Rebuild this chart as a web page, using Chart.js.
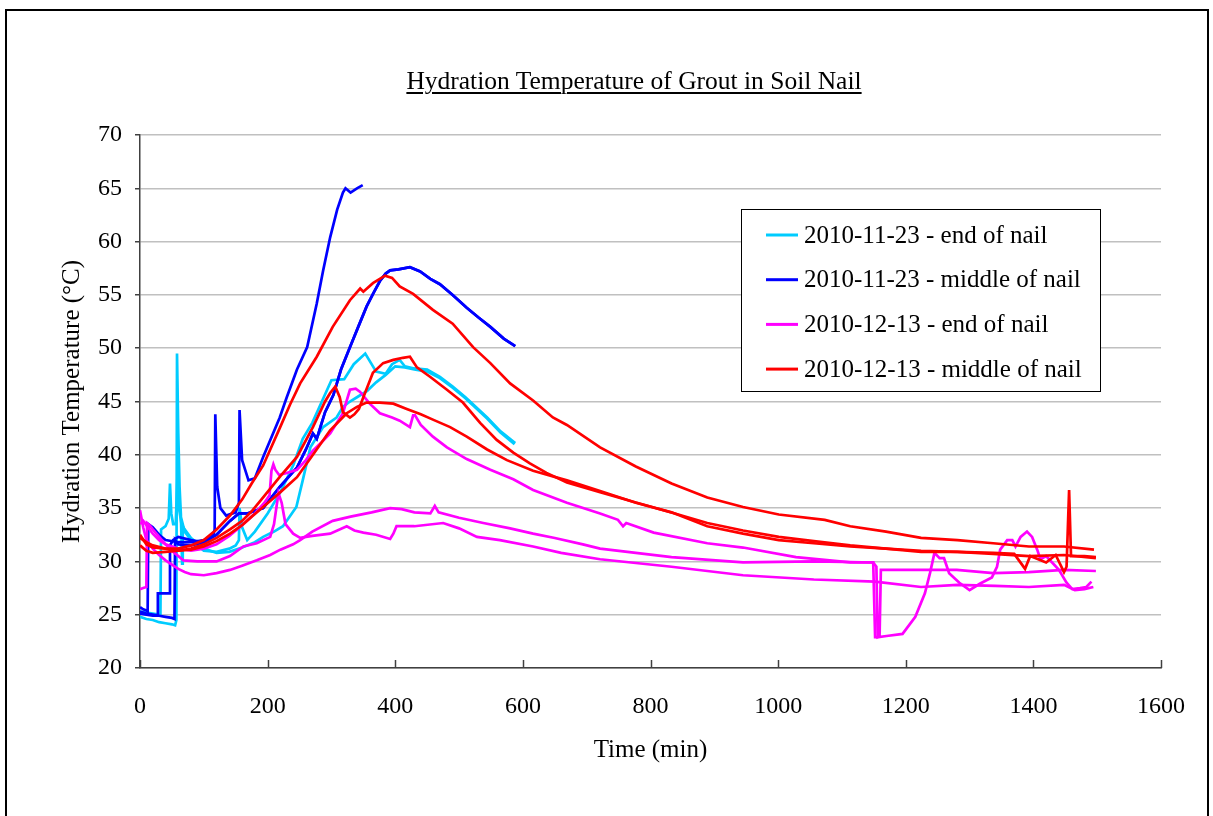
<!DOCTYPE html>
<html>
<head>
<meta charset="utf-8">
<script src="https://cdn.jsdelivr.net/npm/chart.js@4/dist/chart.umd.min.js"></script>
<style>
  html, body { margin:0; padding:0; background:#fff; width:1213px; height:816px; overflow:hidden; }
  #wrap { position:relative; width:1213px; height:816px; }
  #frame { position:absolute; left:5px; top:9px; width:1200px; height:900px; border:2px solid #000; box-sizing:content-box; pointer-events:none; }
  #title { position:absolute; left:0; top:66px; width:1268px; text-align:center; font-family:'Liberation Serif', serif; font-size:25.5px; line-height:30px; color:#000; }
  #title span { text-decoration:underline; text-underline-offset:3px; text-decoration-thickness:1.5px; }
  canvas { position:absolute; left:0; top:0; }
</style>
</head>
<body>
<div id="wrap">
  <canvas id="c" width="1213" height="816"></canvas>
  <div id="frame"></div>
  <div id="title"><span>Hydration Temperature of Grout in Soil Nail</span></div>
</div>
<script>
// ---------------- DATA ----------------
const seriesNames = ['2010-11-23 - end of nail', '2010-11-23 - middle of nail', '2010-12-13 - end of nail', '2010-12-13 - middle of nail'];
const xTickValues = [0, 200, 400, 600, 800, 1000, 1200, 1400, 1600];
const yTickValues = [20, 25, 30, 35, 40, 45, 50, 55, 60, 65, 70];

// 2010-11-23 end of nail (sensor A)
const end1123A_time = [0,10,20,30,40,50,55,57,58,60,62,64,66,67,70,80,90,100,120,140,150,155,156,160,168,180,200,220,240,255,270,285,300,320,335,353,362,370,385,395,407,415,430,450,470,490,510,544,565,588];
const end1123A_temp = [24.8,24.6,24.5,24.3,24.2,24.1,24.0,24.5,49.5,42,37,34.5,29.8,33.5,32.8,32,31.5,31,30.9,31.2,31.5,32,35,33.2,32,32.8,34.5,36.5,39,41.5,43,45,47,47.1,48.5,49.5,48.6,47.8,47.6,48.5,48.9,48.3,48.1,48,47.3,46.4,45.4,43.5,42.2,41.1];
// 2010-11-23 end of nail (sensor B)
const end1123B_time = [0,10,20,30,32,33,40,45,47,49,52,56,59,61,65,70,80,90,100,120,140,160,180,193,210,224,245,255,267,287,308,318,329,340,356,370,385,400,415,430,450,470,490,510,544,565,587];
const end1123B_temp = [25.3,25.2,25.1,25,25,33,33.3,34,37.3,34.5,33.5,33.5,38.6,35,33.5,33,32.2,31.7,31.2,30.8,30.9,31.3,31.8,32.3,32.8,33.3,35.1,37.6,40.7,42.6,43.5,44.5,45,45.4,46,46.8,47.5,48.3,48.2,48,47.8,47.2,46.3,45.3,43.4,42.1,41];

// 2010-11-23 middle of nail (sensors A, B, C)
const mid1123A_time = [0,5,10,12,13,20,30,40,60,80,100,115,117,118,121,126,135,150,155,156,160,170,180,193,219,230,246,262,277,287,298,309,318,322,330,340,349];
const mid1123A_temp = [25.7,25.5,25.4,25.3,33.5,33.2,32.5,32,31.8,31.8,32,32.5,33,43.8,37,35,34.3,34.6,35.5,44.2,39.5,37.6,37.8,39.8,43.5,45.4,48,50.1,54.2,57.3,60.4,63,64.6,65,64.6,65,65.3];
const mid1123B_time = [0,10,20,30,40,50,54,55,60,80,100,120,141,155,168,193,219,246,260,271,277,290,303,315,329,342,355,366,376,385,392,405,423,439,455,470,490,512,530,549,570,588];
const mid1123B_temp = [25.3,25.1,25,24.9,24.8,24.7,24.6,32,31.6,31.5,31.8,32.5,33.8,34.5,34.5,35,37,38.8,40.5,42,41.5,44,45.6,48,50.1,52,53.9,55.2,56.3,57,57.3,57.4,57.6,57.2,56.5,56,55,53.8,52.9,52,50.9,50.2];
const mid1123C_time = [0,10,20,27,28,40,46,47,52,60,80,100,120,141,155,168,193,219,246,260,271,277,290,303,315,329,342,355,366,376,385,392,405,423,439,455,470,490,512,530,549,570,588];
const mid1123C_temp = [25.1,25,24.9,24.9,27,27,27,31.5,32,32.3,32,31.8,32.5,33.8,34.5,34.5,35,37,38.8,40.5,42,41.5,44,45.6,48,50.1,52,53.9,55.2,56.3,57,57.3,57.4,57.6,57.2,56.5,56,55,53.8,52.9,52,50.9,50.2];

// 2010-12-13 end of nail (sensors A, B, C)
const end1213A_time = [0,5,10,20,30,40,60,80,100,120,140,160,180,195,203,206,209,212,218,230,246,260,271,285,298,318,329,338,345,360,376,395,407,423,428,431,440,459,481,512,549,585,616,669,721,749,757,762,805,889,945,1028,1113,1149,1152,1157,1170,1195,1215,1230,1238,1245,1253,1260,1268,1284,1300,1316,1335,1343,1348,1359,1367,1372,1380,1390,1398,1406,1411,1420,1440,1452,1461,1473,1483,1491];
const end1213A_temp = [33.5,33.8,33.4,32.6,32,31.6,31.2,31,31.2,31.6,32.4,33.4,34.5,35.5,36.2,38.5,39.1,38.6,38.1,38.3,38.6,39.5,40.4,41.2,42,43.9,46.1,46.2,45.9,44.8,43.9,43.5,43.2,42.6,43.7,43.7,42.8,41.7,40.7,39.6,38.6,37.7,36.7,35.5,34.5,33.9,33.3,33.6,32.7,31.7,31.3,30.4,29.9,29.9,22.9,22.9,23,23.2,24.8,27,28.9,30.8,30.3,30.3,28.9,28,27.3,27.9,28.5,29.5,31.1,32,32,31.4,32.3,32.8,32.3,31.1,30.2,30.5,29.2,28,27.4,27.5,27.6,28.1];
const end1213B_time = [0,5,10,20,30,40,50,60,70,80,100,120,141,160,183,204,220,240,251,270,302,330,363,392,410,430,455,462,468,500,538,580,616,650,694,721,833,945,1056,1149,1154,1156,1159,1161,1224,1280,1337,1393,1448,1498];
const end1213B_temp = [34.8,33.2,32,31.2,30.6,30.1,29.7,29.3,29,28.8,28.7,28.9,29.2,29.6,30.1,30.6,31.1,31.6,32,32.8,33.8,34.2,34.6,35,34.9,34.6,34.5,35.2,34.6,34.1,33.6,33.1,32.6,32.2,31.6,31.2,30.4,29.9,30,29.9,29.5,22.9,23,29.2,29.2,29.2,28.9,29,29.2,29.1];
const end1213C_time = [0,5,10,11,15,20,30,40,50,68,90,120,141,162,183,204,210,217,222,228,240,251,270,298,324,336,350,370,392,397,402,430,475,500,528,564,616,660,721,833,945,1056,1152,1224,1281,1340,1393,1448,1465,1480,1494];
const end1213C_temp = [27.4,27.5,27.6,33.6,33.4,33,32.3,31.6,31,30.1,30,30,30.5,31.4,31.7,32.3,33.5,36.4,35.5,33.5,32.6,32.2,32.4,32.6,33.3,32.9,32.7,32.5,32.1,32.6,33.3,33.3,33.6,33.1,32.3,32,31.4,30.8,30.2,29.5,28.7,28.3,28.1,27.6,27.8,27.7,27.6,27.8,27.3,27.4,27.6];

// 2010-12-13 middle of nail (sensors A, B, C)
const mid1213A_time = [0,10,20,40,60,80,100,120,141,160,175,193,219,235,251,277,302,329,345,350,365,384,395,407,428,459,490,522,549,580,616,647,669,721,777,833,889,945,1001,1073,1113,1169,1224,1281,1337,1393,1448,1495];
const mid1213A_temp = [32.5,31.6,31.3,31.2,31.2,31.5,32,33,34.3,35.8,37.3,39,42.5,44.7,46.7,49.2,52,54.5,55.6,55.3,56.1,56.8,56.6,55.8,55.1,53.6,52.3,50.1,48.6,46.7,45.1,43.5,42.8,40.7,38.9,37.3,36,35.1,34.4,33.9,33.3,32.8,32.2,32,31.7,31.4,31.4,31.1];
const mid1213B_time = [0,10,20,40,60,80,100,120,141,160,175,193,220,246,271,290,298,306,313,318,329,336,343,350,365,381,397,412,423,434,455,481,506,533,559,585,611,637,669,721,773,826,889,945,1001,1056,1113,1169,1224,1281,1337,1370,1387,1395,1420,1435,1448,1452,1456,1459,1480,1498];
const mid1213B_temp = [31.5,31,30.8,30.9,31,31.2,31.6,32.2,33,33.8,34.7,36,38,39.8,42.6,45,45.8,46.4,45.4,44,43.5,43.8,44.3,45.4,47.7,48.6,48.9,49.1,49.2,48.2,47.3,46.1,44.9,43,41.4,40.2,39.2,38.3,37.4,36.5,35.6,34.7,33.6,32.9,32.3,31.9,31.5,31.2,30.9,30.9,30.8,30.7,29.3,30.5,29.9,30.6,29,29.5,36.7,30.5,30.5,30.4];
const mid1213C_time = [0,10,20,40,60,80,100,120,141,160,175,193,220,246,271,298,324,340,355,376,397,418,440,459,486,512,544,575,616,669,721,777,833,889,945,1001,1056,1113,1169,1224,1281,1337,1393,1448,1498];
const mid1213C_temp = [32.2,31.8,31.5,31.2,31,31.1,31.4,31.9,32.6,33.4,34.2,35.1,36.5,37.9,40,42.3,43.9,44.5,44.9,44.9,44.8,44.3,43.8,43.3,42.6,41.7,40.5,39.5,38.5,37.6,36.6,35.5,34.6,33.3,32.6,32,31.7,31.4,31.2,31,30.9,30.7,30.5,30.6,30.3];

// ---------------- STYLE ----------------
const seriesColors = ['#00CCFF', '#0000FF', '#FF00FF', '#FF0000'];
const FONT = "'Liberation Serif', 'Times New Roman', serif";

function pts(t, v) { return t.map((x, i) => ({ x: x, y: v[i] })); }
function ds(seriesIdx, t, v) {
  return {
    label: seriesNames[seriesIdx],
    data: pts(t, v),
    borderColor: seriesColors[seriesIdx],
    backgroundColor: seriesColors[seriesIdx],
    borderWidth: 2.7,
    pointRadius: 0,
    tension: 0,
    fill: false,
    order: 4 - seriesIdx
  };
}

const datasets = [
  ds(0, end1123A_time, end1123A_temp),
  ds(0, end1123B_time, end1123B_temp),
  ds(1, mid1123A_time, mid1123A_temp),
  ds(1, mid1123B_time, mid1123B_temp),
  ds(1, mid1123C_time, mid1123C_temp),
  ds(2, end1213A_time, end1213A_temp),
  ds(2, end1213B_time, end1213B_temp),
  ds(2, end1213C_time, end1213C_temp),
  ds(3, mid1213A_time, mid1213A_temp),
  ds(3, mid1213B_time, mid1213B_temp),
  ds(3, mid1213C_time, mid1213C_temp)
];

// inward tick marks on the x axis
const innerXTicks = {
  id: 'innerXTicks',
  beforeDatasetsDraw(chart) {
    const sx = chart.scales.x, ctx = chart.ctx, yb = chart.chartArea.bottom;
    ctx.save();
    ctx.strokeStyle = '#404040';
    ctx.lineWidth = 1.5;
    xTickValues.forEach(v => {
      const px = Math.round(sx.getPixelForValue(v)) + 0.5;
      ctx.beginPath();
      ctx.moveTo(px, yb);
      ctx.lineTo(px, yb - 8);
      ctx.stroke();
    });
    ctx.restore();
  }
};

// boxed legend inside the plot
const boxLegend = {
  id: 'boxLegend',
  afterDraw(chart) {
    const ctx = chart.ctx;
    ctx.save();
    ctx.fillStyle = '#fff';
    ctx.fillRect(741, 209, 359, 182);
    ctx.strokeStyle = '#000';
    ctx.lineWidth = 1;
    ctx.strokeRect(741.5, 209.5, 359, 182);
    ctx.font = '25px ' + FONT;
    ctx.textBaseline = 'middle';
    ctx.textAlign = 'left';
    seriesNames.forEach((name, i) => {
      const y = 235 + i * 44.7;
      ctx.strokeStyle = seriesColors[i];
      ctx.lineWidth = 3;
      ctx.beginPath();
      ctx.moveTo(766, y);
      ctx.lineTo(798, y);
      ctx.stroke();
      ctx.fillStyle = '#000';
      ctx.fillText(name, 804, y + 1);
    });
    ctx.restore();
  }
};

new Chart(document.getElementById('c'), {
  type: 'line',
  data: { datasets: datasets },
  plugins: [innerXTicks, boxLegend],
  options: {
    responsive: false,
    animation: false,
    devicePixelRatio: 1,
    layout: { padding: { left: 0, top: 135, right: 52, bottom: 0 } },
    plugins: { legend: { display: false }, tooltip: { enabled: false }, title: { display: false } },
    scales: {
      x: {
        type: 'linear', min: 0, max: 1600,
        afterBuildTicks(s) { s.ticks = xTickValues.map(v => ({ value: v })); },
        ticks: { color: '#000', font: { family: FONT, size: 24 }, padding: 16, maxRotation: 0, callback: v => String(v) },
        grid: { display: false },
        border: { display: true, color: '#404040', width: 1.5 },
        title: { display: true, text: 'Time (min)', color: '#000', font: { family: FONT, size: 25 }, padding: { top: 0, bottom: 51 } },
        afterFit(s) { s.height = 148; }
      },
      y: {
        type: 'linear', min: 20, max: 70,
        afterBuildTicks(s) { s.ticks = yTickValues.map(v => ({ value: v })); },
        ticks: { color: '#000', font: { family: FONT, size: 24 }, padding: 13, callback: v => String(v) },
        grid: { color: '#c0c0c0', lineWidth: 1.5, drawTicks: true, tickLength: 5, tickColor: '#404040' },
        border: { display: true, color: '#404040', width: 1.5 },
        title: { display: true, text: 'Hydration Temperature (°C)', color: '#000', font: { family: FONT, size: 25 }, padding: { top: 57, bottom: 0 } },
        afterFit(s) { s.width = 140; }
      }
    }
  }
});
</script>
</body>
</html>
